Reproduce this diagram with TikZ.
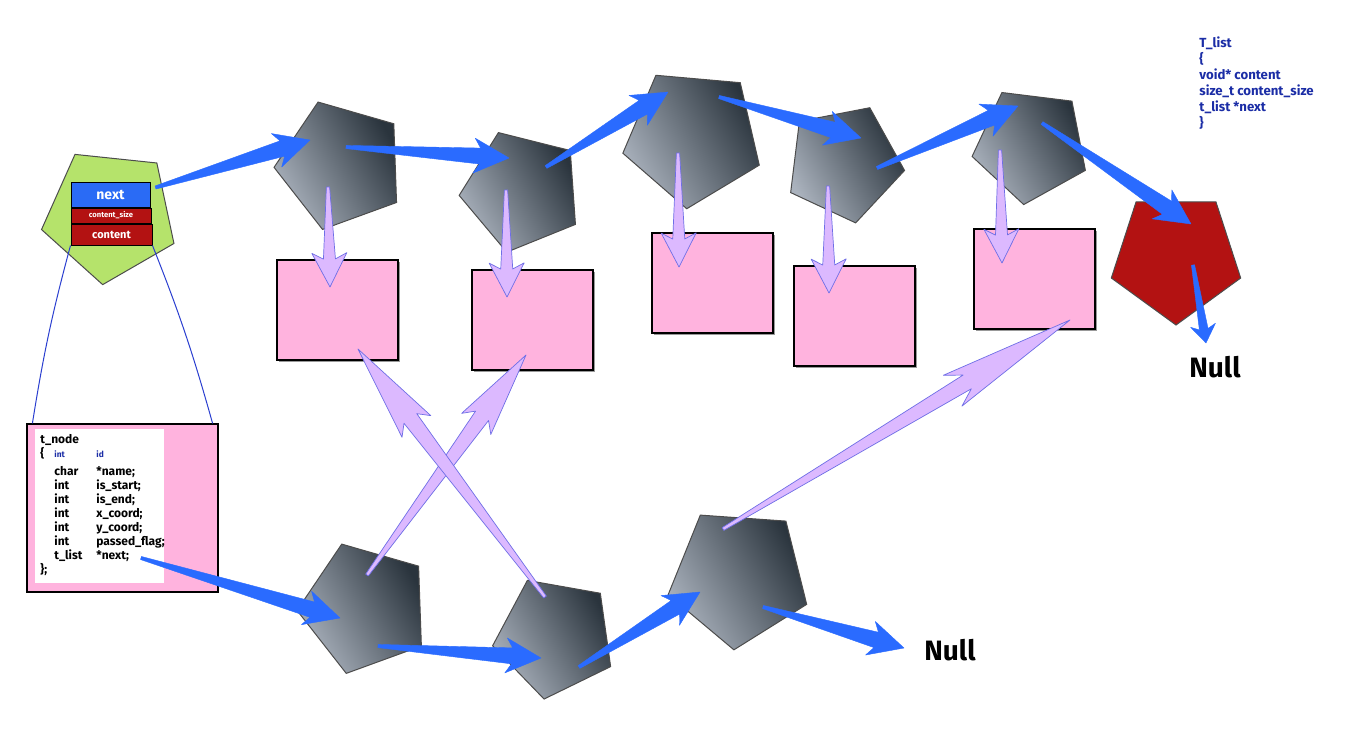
\documentclass[tikz,border=0pt]{standalone}
\usepackage{fontspec}
\setmainfont{Fira Sans}
\usetikzlibrary{calc,shapes.geometric,shadows}
\definecolor{LinkBlue}{HTML}{2A6BFF}
\definecolor{LilacFill}{HTML}{DCB9FF}
\definecolor{LilacEdge}{HTML}{6E6EE6}
\definecolor{PayloadPink}{HTML}{FFB3DE}
\definecolor{CellDark}{HTML}{2A343D}
\definecolor{CellLight}{HTML}{AAB2BD}
\definecolor{HeadGreen}{HTML}{B5E36B}
\definecolor{NullRed}{HTML}{B31212}
\definecolor{NextBlue}{HTML}{2A6BF5}
\definecolor{InkBlue}{HTML}{1B2DA6}
\definecolor{WireBlue}{HTML}{2B3FD0}

% tapered arrow: style, tail, tip, head length, barb half width, joint length, joint half width
\newcommand{\tailarrow}[7]{%
  \coordinate (ta-h) at ($(#3)!#4!(#2)$);
  \coordinate (ta-j) at ($(#3)!#6!(#2)$);
  \path[#1] ($(#2)!0.8pt!90:(#3)$) -- ($(ta-j)!#7!90:(#3)$) -- ($(ta-h)!#5!90:(#3)$) -- (#3)
    -- ($(ta-h)!#5!-90:(#3)$) -- ($(ta-j)!#7!-90:(#3)$) -- ($(#2)!0.8pt!-90:(#3)$) -- cycle;
}
\newcommand{\linkarrow}[2]{\tailarrow{linkflow}{#1}{#2}{17.5pt}{8.75pt}{14.5pt}{4pt}}
\newcommand{\droparrow}[2]{\tailarrow{dataflow}{#1}{#2}{17pt}{8.75pt}{14pt}{3pt}}
\newcommand{\tinyblue}[1]{\leavevmode{\color{InkBlue}\fontsize{4.2}{4}\selectfont #1}}

\begin{document}
\begin{tikzpicture}[x=0.5pt, y=-0.5pt,
  cellbox/.style={regular polygon, regular polygon sides=5, inner sep=0pt,
    draw=black!70, line width=0.5pt, top color=CellDark, bottom color=CellLight,
    shading angle=-60},
  headcell/.style={regular polygon, regular polygon sides=5, inner sep=0pt,
    draw=black!70, line width=0.5pt, fill=HeadGreen},
  nullcell/.style={regular polygon, regular polygon sides=5, inner sep=0pt,
    draw=black!70, line width=0.5pt, fill=NullRed},
  payloadbox/.style={draw=black, line width=0.6pt, fill=PayloadPink,
    minimum width=60.5pt, minimum height=50pt, inner sep=0pt,
    drop shadow={shadow xshift=0.8pt, shadow yshift=-0.8pt, fill=gray, opacity=0.8}},
  fieldbox/.style={draw=black, line width=0.5pt, inner sep=0pt, text=white, font=\bfseries},
  linkflow/.style={fill=LinkBlue, draw=LinkBlue, line width=0.2pt, line join=round},
  dataflow/.style={fill=LilacFill, draw=LilacEdge, line width=0.35pt, line join=round},
  wire/.style={draw=WireBlue, line width=0.5pt},
  nulltext/.style={font=\bfseries\fontsize{14}{16}\selectfont}
]
\path[fill=white, use as bounding box] (0,0) rectangle (1365,751);

% head of the list
\node[headcell, minimum size=70pt, shape border rotate=30] (head) at (110,215) {};
\node[fieldbox, fill=NextBlue, minimum width=39.5pt, minimum height=12.5pt,
  font=\bfseries\fontsize{7}{8}\selectfont] (next) at (110.5,194.5) {next};
\node[fieldbox, fill=NullRed, minimum width=40pt, minimum height=7.5pt,
  font=\bfseries\fontsize{3.8}{4}\selectfont] (csize) at (111,215.5) {content\_size};
\node[fieldbox, fill=NullRed, minimum width=40.5pt, minimum height=10.5pt,
  font=\bfseries\fontsize{5.5}{6}\selectfont] (content) at (111.5,234.5) {content};

% list cells
\node[cellbox, minimum size=67pt, shape border rotate=20] (p1) at (341,165) {};
\node[cellbox, minimum size=63pt, shape border rotate=22] (p2) at (522,191) {};
\node[cellbox, minimum size=72pt, shape border rotate=31] (p3) at (693,137) {};
\node[cellbox, minimum size=61pt, shape border rotate=-25] (p4) at (844,163) {};
\node[cellbox, minimum size=60pt, shape border rotate=29] (p5) at (1031,145) {};
\node[nullcell, minimum size=68pt, shape border rotate=180] (pend) at (1176,257) {};
\node[cellbox, minimum size=68pt, shape border rotate=20] (q1) at (365,608) {};
\node[cellbox, minimum size=63pt, shape border rotate=26] (q2) at (555,637) {};
\node[cellbox, minimum size=73pt, shape border rotate=32] (q3) at (739,577) {};

% payloads
\node[payloadbox] (b1) at (337.5,310) {};
\node[payloadbox] (b2) at (532.5,320) {};
\node[payloadbox] (b3) at (712.5,283) {};
\node[payloadbox] (b4) at (854.5,316) {};
\node[payloadbox] (b5) at (1034.5,279) {};

% t_node struct
\node[draw=black, line width=0.6pt, fill=PayloadPink, minimum width=95.5pt,
  minimum height=84pt, inner sep=0pt] (tnode) at (122.5,508) {};
\node[fill=white, minimum width=64.5pt, minimum height=77pt, inner sep=0pt] (tbody) at (99.5,506) {};
\node[anchor=north west, inner sep=0pt, font=\bfseries\fontsize{6}{7}\selectfont] (tfields) at (40,433) {%
  \begin{tabular}{@{}p{7pt}@{}p{21pt}@{}l@{}}
  \multicolumn{3}{@{}l@{}}{t\_node}\\
  \{ & \tinyblue{int} & \tinyblue{id}\\[2pt]
   & char & *name;\\
   & int & is\_start;\\
   & int & is\_end;\\
   & int & x\_coord;\\
   & int & y\_coord;\\
   & int & passed\_flag;\\
   & t\_list & *next;\\
  \};
  \end{tabular}};

% t_list definition
\node[anchor=north west, inner sep=0pt, align=left, text=InkBlue,
  font=\bfseries\fontsize{6.6}{8}\selectfont] (listdef) at (1199,36)
  {T\_list\\\{\\void* content\\size\_t content\_size\\t\_list *next\\\}};

\node[nulltext] (null1) at (1215,367) {Null};
\node[nulltext] (null2) at (950,650) {Null};

% wires from head fields to t_node
\coordinate (tn-l) at ($(tnode.north west)+(6,0)$);
\coordinate (tn-r) at ($(tnode.north east)+(-6,0)$);
\draw[wire] (content.south west) to[bend right=3] (tn-l);
\draw[wire] (content.south east) to[bend left=3] (tn-r);

% arrow ends
\coordinate (next-out) at ($(next.east)+(5,-7)$);
\coordinate (p1-in) at ($(p1)+(-31,-25)$);
\coordinate (p1-out) at ($(p1)+(5,-18)$);
\coordinate (p2-in) at ($(p2)+(-13,-33)$);
\coordinate (p2-out) at ($(p2)+(24,-24)$);
\coordinate (p3-in) at ($(p3)+(-25,-45)$);
\coordinate (p3-out) at ($(p3)+(26,-40)$);
\coordinate (p4-in) at ($(p4)+(17,-25)$);
\coordinate (p4-out) at ($(p4)+(33,5)$);
\coordinate (p5-in) at ($(p5)+(-13,-39)$);
\coordinate (p5-out) at ($(p5)+(11,-22)$);
\coordinate (pend-in) at ($(pend)+(15,-33)$);
\coordinate (pend-out) at ($(pend)+(17,8)$);
\coordinate (null1-in) at ($(null1)+(-9,-24)$);
\coordinate (tnode-out) at ($(tnode)+(18.5,50)$);
\coordinate (q1-in) at ($(q1)+(-25,10)$);
\coordinate (q1-out) at ($(q1)+(13,38)$);
\coordinate (q2-in) at ($(q2)+(-14,21)$);
\coordinate (q2-out) at ($(q2)+(24,30)$);
\coordinate (q3-in) at ($(q3)+(-39,15)$);
\coordinate (q3-out) at ($(q3)+(24,30)$);
\coordinate (null2-in) at ($(null2)+(-46,-2)$);

% next links
\linkarrow{next-out}{p1-in}
\linkarrow{p1-out}{p2-in}
\linkarrow{p2-out}{p3-in}
\linkarrow{p3-out}{p4-in}
\linkarrow{p4-out}{p5-in}
\linkarrow{p5-out}{pend-in}
\tailarrow{linkflow}{pend-out}{null1-in}{9pt}{6.3pt}{7pt}{2.2pt}
\linkarrow{tnode-out}{q1-in}
\linkarrow{q1-out}{q2-in}
\linkarrow{q2-out}{q3-in}
\linkarrow{q3-out}{null2-in}

% content links
\droparrow{$(p1)+(-13,22)$}{$(b1)+(-7.5,-23)$}
\droparrow{$(p2)+(-16,-1)$}{$(b2)+(-25.5,-23)$}
\droparrow{$(p3)+(-15,16)$}{$(b3)+(-33.5,-16)$}
\droparrow{$(p4)+(-16,23)$}{$(b4)+(-25.5,-23)$}
\droparrow{$(p5)+(-31,5)$}{$(b5)+(-32.5,-16)$}
\tailarrow{dataflow}{$(q1)+(2,-33)$}{$(b2)+(-6.5,35)$}{42.5pt}{9pt}{37.5pt}{4pt}
\tailarrow{dataflow}{$(q2)+(-10,-40)$}{$(b1)+(20.5,39)$}{48.5pt}{9pt}{43.5pt}{4pt}
\tailarrow{dataflow}{$(q3)+(-16,-48)$}{$(b5)+(35.5,41)$}{68.5pt}{9pt}{60pt}{4pt}
\end{tikzpicture}
\end{document}
